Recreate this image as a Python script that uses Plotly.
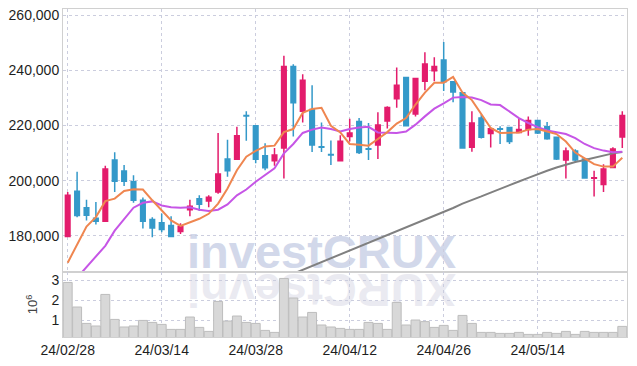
import plotly.graph_objects as go
from plotly.subplots import make_subplots

dates = ["24/02/28","24/02/29","24/03/04","24/03/05","24/03/06","24/03/07","24/03/08","24/03/11","24/03/12","24/03/13",
         "24/03/14","24/03/15","24/03/18","24/03/19","24/03/20","24/03/21","24/03/22","24/03/25","24/03/26","24/03/27",
         "24/03/28","24/03/29","24/04/01","24/04/02","24/04/03","24/04/04","24/04/05","24/04/08","24/04/09","24/04/11",
         "24/04/12","24/04/15","24/04/16","24/04/17","24/04/18","24/04/19","24/04/22","24/04/23","24/04/24","24/04/25",
         "24/04/26","24/04/29","24/04/30","24/05/02","24/05/03","24/05/07","24/05/08","24/05/09","24/05/10","24/05/13",
         "24/05/14","24/05/16","24/05/17","24/05/20","24/05/21","24/05/22","24/05/23","24/05/24","24/05/27","24/05/28"]

open_ = [179800,196200,190200,186400,185300,207500,203500,199600,192900,185900,
         184800,183800,181600,189500,193500,192600,195900,207900,207800,223600,
         219900,209000,207200,211800,241400,225200,225800,212300,209500,207200,
         216000,221400,211600,212900,221600,229700,237400,224200,236000,239800,
         243700,235800,231900,212100,222700,217100,218800,219300,217500,218500,
         221800,219500,215700,207500,210800,207900,200900,198600,204800,215800]
high = [195900,203200,193100,192300,205400,210300,205700,202000,193900,186800,
        188100,187100,184600,193100,194700,194700,217300,214800,219500,225200,
        219900,213600,211800,245300,242200,238600,234600,221100,214600,216500,
        222400,222700,220900,224800,227000,241000,237700,237100,246500,244700,
        250200,236000,232000,225200,224000,218900,219700,219400,222700,223300,
        222000,221300,215700,212000,211400,208000,203600,206000,212100,225200]
low = [179800,186800,185600,184100,185000,195900,198100,192000,182700,179500,
       181300,179800,180700,187100,189000,190400,195300,201400,207500,214500,
       206300,203800,205400,200800,216000,221100,210400,210400,205700,207000,
       214200,209700,207500,207900,218900,226400,219900,223300,232800,236000,
       232500,228400,211800,210500,215300,212000,213300,213300,217400,216300,
       216900,214800,207500,200800,206500,201000,194300,195900,204800,211800]
close = [194700,187400,187500,185300,204200,199800,199800,192900,185300,182900,
         182300,179800,183400,190700,191500,194000,202400,203600,216300,223400,
         207800,204700,209300,241400,228200,236400,212900,212100,209300,214300,
         217300,210200,211400,220200,226500,234600,219900,237000,242300,241400,
         235800,232100,211800,220900,215700,218800,218600,214200,218500,221800,
         217300,215200,207900,210800,207500,201000,201100,204200,211500,223600]

volume_m = [2.88,1.65,0.83,0.70,2.28,1.03,0.65,0.70,0.98,0.88,
            0.78,0.53,0.53,1.15,0.63,0.43,1.93,0.95,1.20,0.88,
            0.83,0.48,0.38,3.08,2.10,1.15,1.38,0.75,0.65,0.58,
            0.53,0.53,0.88,0.83,0.53,1.88,0.75,1.00,0.92,0.63,
            0.73,0.48,1.23,0.83,0.38,0.38,0.33,0.33,0.38,0.28,
            0.28,0.38,0.33,0.43,0.28,0.43,0.38,0.38,0.38,0.68]

ma_short = [170300,177000,183400,186800,192600,193500,196300,196900,196800,192900,
            189200,185600,183600,184900,186200,188000,191700,197200,203800,208700,
            210800,212400,212700,217600,218700,224600,226000,226400,219900,217500,
            213300,213000,212700,215100,217600,220700,222700,227600,231900,235500,
            235500,237600,231900,229200,224000,219100,217300,217500,217500,218500,
            218700,217800,216900,214200,210200,208100,206000,205100,205100,208300]
ma_mid = [161000,164900,168500,172400,176400,181900,186200,190200,192000,192500,
          191000,190400,190200,190400,189500,189000,189500,191400,194700,196800,
          199600,202000,204500,209900,213300,217300,218500,219300,218700,217800,
          218700,219300,219500,217500,217300,217300,217800,220300,223300,226100,
          228000,230100,230300,230100,229200,227600,227400,225200,222700,220900,
          219400,218200,217500,216900,215400,213300,211800,210900,210300,210500]
ma_long = [None]*24 + [166300,167700,169100,170400,171800,173200,174600,175900,177300,178800,
                       180200,181700,183100,184500,185900,187200,188600,190100,191700,192900,
                       194300,195700,197100,198500,199700,201000,202400,203600,204800,205900,
                       206800,207500,208300,209100,209900,210400]

price_ticks = [180000, 200000, 220000, 240000, 260000]
vol_ticks = [1, 2, 3]
x_ticks = dates[::10]

RED = "#e31c6c"
BLUE = "#3499c9"
FONT = "Liberation Sans, Arial, sans-serif"
TICKFONT = dict(family=FONT, size=14, color="#1e1e1e")

fig = make_subplots(rows=2, cols=1, shared_xaxes=True, vertical_spacing=0,
                    row_heights=[0.802, 0.198])

fig.add_trace(go.Candlestick(
    x=dates, open=open_, high=high, low=low, close=close,
    increasing=dict(line=dict(color=RED, width=1.5), fillcolor=RED),
    decreasing=dict(line=dict(color=BLUE, width=1.5), fillcolor=BLUE),
    whiskerwidth=0, showlegend=False), row=1, col=1)

fig.add_trace(go.Scatter(x=dates, y=ma_long, mode="lines",
                         line=dict(color="#808080", width=2), showlegend=False,
                         connectgaps=False), row=1, col=1)
fig.add_trace(go.Scatter(x=dates, y=ma_mid, mode="lines",
                         line=dict(color="#c655e6", width=2), showlegend=False), row=1, col=1)
fig.add_trace(go.Scatter(x=dates, y=ma_short, mode="lines",
                         line=dict(color="#ef8650", width=2), showlegend=False), row=1, col=1)

fig.add_trace(go.Bar(x=dates, y=volume_m, marker=dict(color="#d8d8d8", line=dict(color="#bdbdbd", width=1)),
                     showlegend=False), row=2, col=1)

grid = dict(showgrid=True, gridcolor="#cbcdde", griddash="dot", gridwidth=1,
            showline=True, linecolor="#d0d0d0", linewidth=1, mirror=True,
            zeroline=False, ticks="", automargin=False)

fig.update_xaxes(type="category", range=[-0.5, 59.5], tickvals=x_ticks, ticktext=x_ticks,
                 rangeslider=dict(visible=False), **grid)
fig.update_xaxes(showticklabels=False, row=1, col=1)
fig.update_xaxes(tickfont=TICKFONT, row=2, col=1)

fig.update_yaxes(range=[166900, 262200], tickvals=price_ticks, tickformat=",d",
                 tickfont=TICKFONT, row=1, col=1, **grid)
fig.update_yaxes(range=[0.15, 3.4], tickvals=vol_ticks, tickfont=TICKFONT,
                 title=dict(text="10<sup>6</sup>", font=dict(family=FONT, size=13, color="#444444"), standoff=10),
                 row=2, col=1, **grid)

# watermark (drawn below traces)
WM_FONT = "Liberation Sans, Arial, sans-serif"
fig.add_shape(type="rect", xref="paper", yref="paper",
              x0=(180-63)/564, x1=(463-63)/564, y0=(337-276)/328, y1=(337-218)/328,
              line=dict(width=0), fillcolor="rgba(0,0,0,0)", layer="below",
              label=dict(text="<b>investCRUX</b>", textposition="middle center",
                         font=dict(family=WM_FONT, size=47, color="#d2d8ea")))
fig.add_shape(type="rect", xref="paper", yref="paper",
              x0=(180-63)/564, x1=(463-63)/564, y0=(337-322)/328, y1=(337-266)/328,
              line=dict(width=0), fillcolor="rgba(0,0,0,0)", layer="below",
              label=dict(text="<b>XURCtsevni</b>", textposition="middle center", textangle=180,
                         font=dict(family=WM_FONT, size=47, color="#eaeaf1")))

fig.update_layout(width=637, height=366, margin=dict(l=63, r=10, t=9, b=29),
                  paper_bgcolor="white", plot_bgcolor="white", bargap=0.05,
                  font=dict(family=FONT), hovermode=False)

fig.write_html("out.html", config={"displayModeBar": False},
               post_script="document.body.style.margin='0px';document.body.style.padding='0px';")
